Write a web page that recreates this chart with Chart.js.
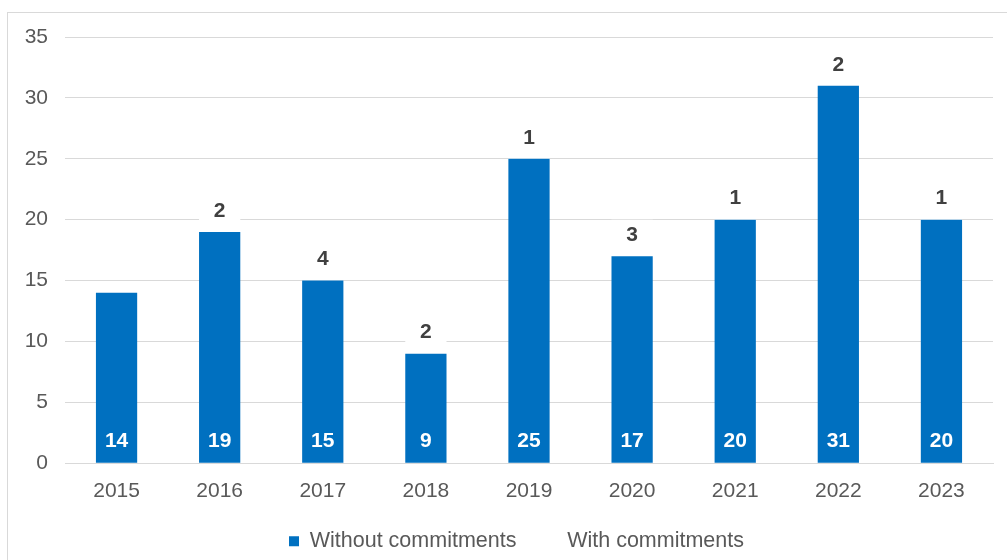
<!DOCTYPE html>
<html>
<head>
<meta charset="utf-8">
<script src="https://cdn.jsdelivr.net/npm/chart.js@4/dist/chart.umd.min.js"></script>
<style>
  body { margin: 0; background: #fff; overflow: hidden; }
  #frame { position: absolute; left: 7px; top: 12px; width: 1100px; height: 700px; border: 1px solid #d9d9d9; }
  #c { position: absolute; left: 0; top: 0; }
</style>
</head>
<body>
<div id="frame"></div>
<canvas id="c" width="1007" height="560"></canvas>
<script>
var years = ["2015", "2016", "2017", "2018", "2019", "2020", "2021", "2022", "2023"];
var withoutCommitments = [14, 19, 15, 9, 25, 17, 20, 31, 20];
var withCommitments = [0, 2, 4, 2, 1, 3, 1, 2, 1];
var yTicks = [0, 5, 10, 15, 20, 25, 30, 35];

var FONT = '"Liberation Sans", Arial, sans-serif';

// value labels: white at bar base, dark above the blue bar for the white segment
var barLabels = {
  id: "barLabels",
  afterDatasetsDraw: function (chart) {
    var ctx = chart.ctx;
    var meta = chart.getDatasetMeta(0);
    ctx.save();
    ctx.font = "bold 21px " + FONT;
    ctx.textAlign = "center";
    ctx.textBaseline = "middle";
    meta.data.forEach(function (bar, i) {
      ctx.fillStyle = "#ffffff";
      ctx.fillText(withoutCommitments[i], bar.x, bar.base - 22);
      if (withCommitments[i]) {
        ctx.fillStyle = "#404040";
        ctx.fillText(withCommitments[i], bar.x, bar.y - 21);
      }
    });
    ctx.restore();
  }
};

// nudge the legend to where the original sits
var legendShift = {
  id: "legendShift",
  afterLayout: function (chart) {
    var lg = chart.legend;
    lg.left += 20; lg.right += 20;
    lg.top -= 10; lg.bottom -= 10;
  }
};

var ctx = document.getElementById("c");
var myChart = new Chart(ctx, {
  type: "bar",
  data: {
    labels: years,
    datasets: [
      {
        label: "Without commitments",
        data: withoutCommitments,
        backgroundColor: "#0070c0",
        borderWidth: 0,
        barPercentage: 0.4,
        categoryPercentage: 1
      },
      {
        label: "With commitments",
        data: withCommitments,
        backgroundColor: "#ffffff",
        borderWidth: 0,
        barPercentage: 0.4,
        categoryPercentage: 1
      }
    ]
  },
  options: {
    responsive: false,
    animation: false,
    layout: { padding: { left: 0, right: 14, top: 37, bottom: -12 } },
    plugins: {
      tooltip: { enabled: false },
      legend: {
        position: "bottom",
        labels: {
          boxWidth: 10,
          boxHeight: 10,
          padding: 30,
          color: "#595959",
          font: { family: FONT, size: 21.5 }
        }
      }
    },
    scales: {
      x: {
        stacked: true,
        grid: { display: false },
        border: { color: "#d9d9d9" },
        ticks: { color: "#595959", padding: 7, font: { family: FONT, size: 21 } }
      },
      y: {
        stacked: true,
        min: 0,
        max: 35,
        afterFit: function (scale) { scale.width = 65; },
        afterBuildTicks: function (scale) {
          scale.ticks = yTicks.map(function (v) { return { value: v }; });
        },
        grid: { color: "#d9d9d9", drawTicks: false },
        border: { display: false },
        ticks: { color: "#595959", padding: 17, font: { family: FONT, size: 21 } }
      }
    }
  },
  plugins: [barLabels, legendShift]
});
</script>
</body>
</html>
